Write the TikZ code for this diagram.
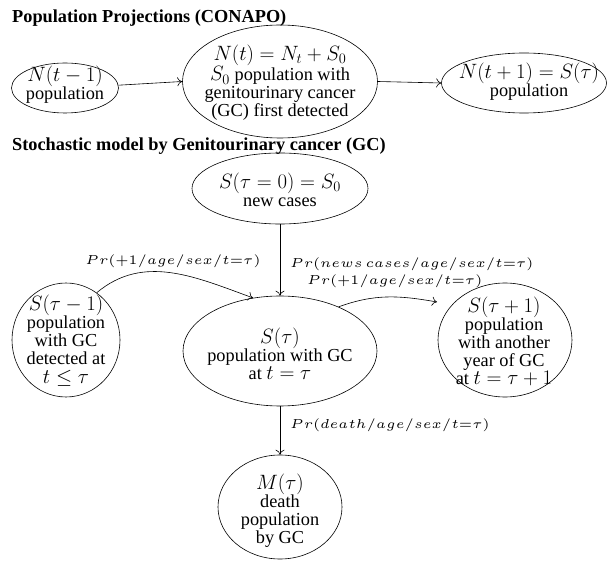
\documentclass[tikz,border=0pt]{standalone}
\usepackage[no-math]{fontspec}
\setmainfont{Liberation Serif}
\usepackage{graphicx}
\usetikzlibrary{shapes.geometric,arrows.meta}
\tikzset{
  body/.style={font=\fontsize{18.3}{18}\selectfont, align=center, inner sep=0pt},
  ttl/.style={font=\fontsize{18.3}{18}\selectfont\bfseries, anchor=west, inner sep=0pt},
  ell/.style={draw, ellipse, inner sep=0pt, line width=0.6pt},
  lbl/.style={font=\fontsize{5}{6}\selectfont, inner sep=0pt},
  conn/.style={-{To[length=5pt,width=9pt]}, line width=0.6pt},
}
\newcommand{\lab}[1]{\scalebox{2.6}{$#1$}}
\newcommand{\mth}[1]{{\fontsize{21.5}{18}\selectfont$#1$}}
\begin{document}
\begin{tikzpicture}[x=1pt,y=1pt]
\useasboundingbox (0,0) rectangle (608,560);
% titles
\node[ttl] (t1) at (12,542) {Population Projections (CONAPO)};
\node[ttl] (t2) at (12,414) {Stochastic model by Genitourinary cancer (GC)};
% top row
\node[ell, minimum width=107, minimum height=50] (n1) at (65,472) {};
\node[body] (n1t) at (65,475.5) {\mth{N(t-1)}\\population};
\node[ell, minimum width=195, minimum height=113] (nt) at (280,478.5) {};
\node[body] (ntt) at (280,477) {\mth{N(t)=N_t+S_0}\\\mth{S_0} population with\\genitourinary cancer\\(GC) first detected};
\node[ell, minimum width=165, minimum height=60] (nr) at (524,477) {};
\node[body] (nrt) at (529,478) {\mth{N(t+1)=S(\tau)}\\population};
% stochastic model
\node[ell, minimum width=176, minimum height=71] (s0) at (280,371.5) {};
\node[body] (s0t) at (280,370) {\mth{S(\tau=0)=S_0}\\new cases};
\node[ell, minimum width=108, minimum height=114] (sm1) at (66,220) {};
\node[body] (sm1t) at (66,219) {\mth{S(\tau-1)}\\population\\with GC\\detected at\\[1pt]\mth{t\leq\tau}};
\node[ell, minimum width=194, minimum height=110] (st) at (280,209) {};
\node[body] (stt) at (280,206) {\mth{S(\tau)}\\population with GC\\at \mth{t=\tau}};
\node[ell, minimum width=134, minimum height=114] (sp1) at (505,220) {};
\node[body] (sp1t) at (504,219) {\mth{S(\tau+1)}\\population\\with another\\year of GC\\at \mth{t=\tau+1}};
\node[ell, minimum width=124, minimum height=104] (m) at (280,53) {};
\node[body] (mt) at (280,49) {\mth{M(\tau)}\\death\\population\\by GC};
% connectors
\draw[conn] (n1.3) -- (nt.west);
\draw[conn] (nt.east) -- (nr.west);
\draw[conn] (s0.south) -- (st.north);
\draw[conn] (st.south) -- (m.north);
\draw[conn] (sm1.57) to[out=40,in=160] (st.117);
\coordinate (c2) at (437,258);
\draw[conn] (st.37) to[out=20,in=170] (c2);
% labels
\node[lbl] (l1) at (173,299) {\lab{Pr(+1/age/sex/t{=}\tau)}};
\node[lbl, anchor=west] (l2) at (290,296) {\lab{Pr(news\ cases/age/sex/t{=}\tau)}};
\node[lbl, anchor=west] (l3) at (307,279) {\lab{Pr(+1/age/sex/t{=}\tau)}};
\node[lbl, anchor=west] (l4) at (290,135) {\lab{Pr(death/age/sex/t{=}\tau)}};
\end{tikzpicture}
\end{document}
